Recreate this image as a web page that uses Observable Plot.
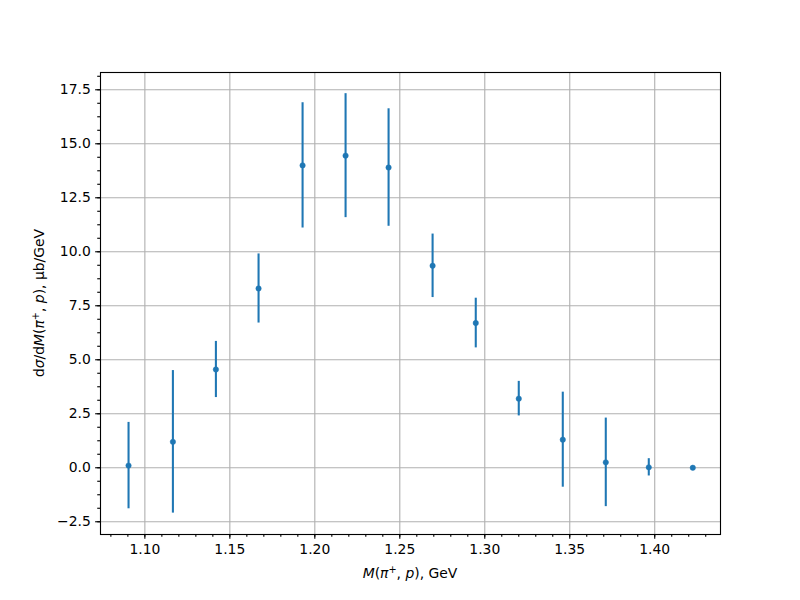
<!DOCTYPE html>
<html>
<head>
<meta charset="utf-8">
<script src="https://cdn.jsdelivr.net/npm/d3@7"></script>
<script src="https://cdn.jsdelivr.net/npm/@observablehq/plot@0.6"></script>
<style>
  html, body { margin: 0; padding: 0; background: white; }
</style>
</head>
<body>
<div id="chart"></div>
<script>
// Data
const mass = [1.0904, 1.1165, 1.1418, 1.1669, 1.1928, 1.2181, 1.2434, 1.2693, 1.2947, 1.3200, 1.3459, 1.3712, 1.3965, 1.4224];
const xsec = [0.1, 1.2, 4.55, 8.3, 14.0, 14.45, 13.9, 9.35, 6.7, 3.2, 1.3, 0.25, 0.02, 0.0];
const err  = [2.0, 3.3, 1.3, 1.6, 2.9, 2.87, 2.72, 1.47, 1.15, 0.8, 2.2, 2.05, 0.4, 0.0];

const xMajor = [1.10, 1.15, 1.20, 1.25, 1.30, 1.35, 1.40];
const xMinor = d3.range(108, 144).map(d => d / 100);
const yMajor = [-2.5, 0, 2.5, 5, 7.5, 10, 12.5, 15, 17.5];
const yMinor = d3.range(-4, 30).map(d => d * 0.625);

const data = mass.map((m, i) => ({x: m, y: xsec[i], lo: xsec[i] - err[i], hi: xsec[i] + err[i]}));

const blue = "#1f77b4";
const gridColor = "#b0b0b0";
const lw = 1.11;

const svg = Plot.plot({
  width: 800,
  height: 600,
  marginLeft: 100,
  marginRight: 80,
  marginTop: 72,
  marginBottom: 66,
  style: {fontFamily: "DejaVu Sans", fontSize: "13.9px", color: "black", background: "white"},
  x: {domain: [1.0739, 1.4387]},
  y: {domain: [-3.09, 18.30]},
  marks: [
    Plot.gridX(xMajor, {stroke: gridColor, strokeOpacity: 1, strokeWidth: lw}),
    Plot.gridY(yMajor, {stroke: gridColor, strokeOpacity: 1, strokeWidth: lw}),
    Plot.ruleX(data, {x: "x", y1: "lo", y2: "hi", stroke: blue, strokeWidth: 2.08}),
    Plot.dot(data, {x: "x", y: "y", r: 2.7, fill: blue, stroke: blue, strokeWidth: 0.5}),
    Plot.frame({stroke: "black", strokeWidth: lw}),
    Plot.axisX(xMinor, {anchor: "bottom", tickSize: 2.78, tickFormat: () => "", label: null, strokeWidth: lw}),
    Plot.axisX(xMajor, {anchor: "bottom", tickSize: 4.86, tickPadding: 4.5, tickFormat: d3.format(".2f"), label: null, strokeWidth: lw}),
    Plot.axisY(yMinor, {anchor: "left", tickSize: 2.78, tickFormat: () => "", label: null, strokeWidth: lw}),
    Plot.axisY(yMajor, {anchor: "left", tickSize: 4.86, tickPadding: 4.86, tickFormat: d3.format(".1f"), label: null, strokeWidth: lw})
  ]
});

// Axis labels with math-style italics
const s = d3.select(svg);
function addLabel(parts, x, y, rotate) {
  const t = s.append("text")
    .attr("text-anchor", "middle")
    .attr("font-family", "DejaVu Sans")
    .attr("font-size", "13.9px")
    .attr("fill", "black")
    .attr("transform", `translate(${x},${y})` + (rotate ? " rotate(-90)" : ""));
  parts.forEach(p => {
    const ts = t.append("tspan").text(p.t);
    if (p.i) ts.attr("font-style", "italic");
    if (p.sup) ts.attr("baseline-shift", "super").attr("font-size", "9.7px");
  });
}
addLabel([
  {t: "M", i: true}, {t: "("}, {t: "π", i: true}, {t: "+", sup: true}, {t: ", "}, {t: "p", i: true}, {t: "), GeV"}
], 410, 578, false);
addLabel([
  {t: "d"}, {t: "σ", i: true}, {t: "/d"}, {t: "M", i: true}, {t: "("}, {t: "π", i: true}, {t: "+", sup: true}, {t: ", "}, {t: "p", i: true}, {t: "), μb/GeV"}
], 44, 303, true);

document.getElementById("chart").appendChild(svg);
</script>
</body>
</html>
